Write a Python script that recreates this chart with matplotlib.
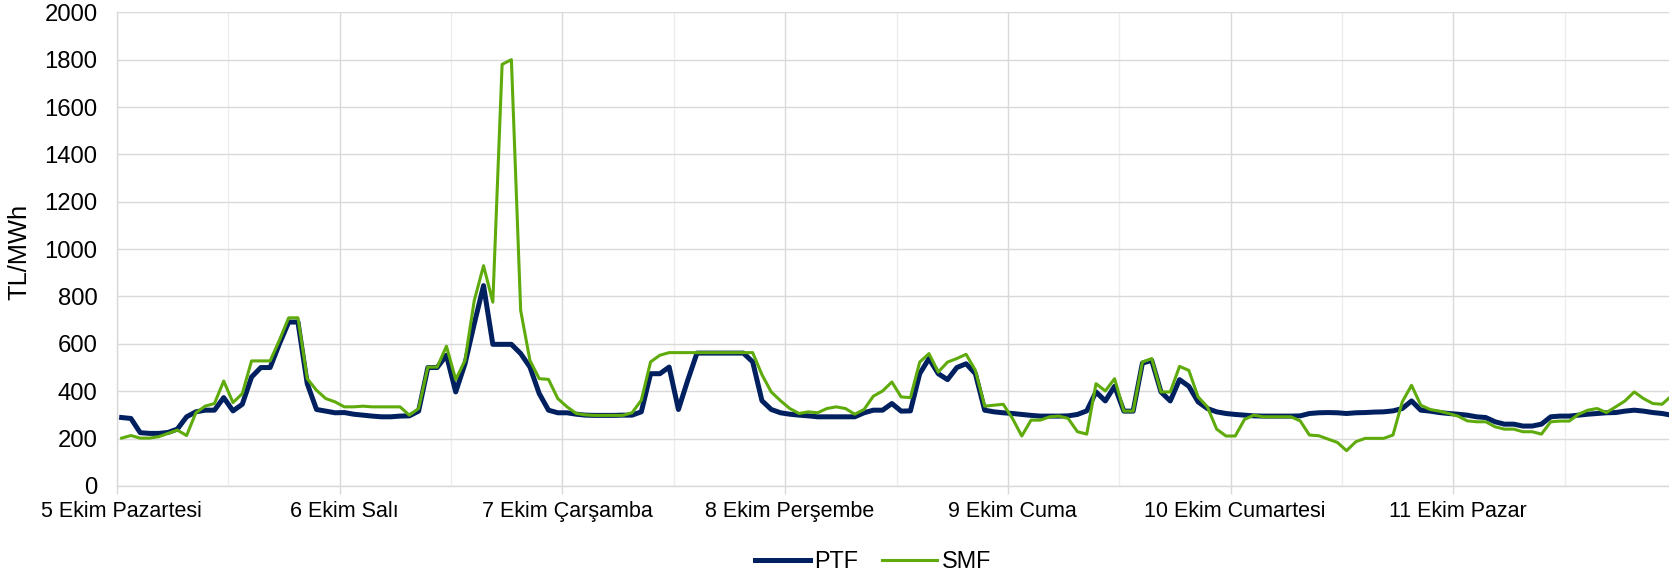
import numpy as np
import matplotlib.pyplot as plt

plt.rcParams['font.family'] = ['Liberation Sans', 'DejaVu Sans']

# hourly prices, 5-11 Ekim (TL/MWh)
ptf = [289, 285, 225, 222, 222, 226, 240, 292, 313, 320, 320, 373, 317, 345, 460, 500, 500, 600, 692, 692, 432, 323, 316, 309,
       310, 303, 299, 295, 292, 292, 295, 296, 316, 500, 500, 552, 397, 516, 685, 846, 598, 598, 598, 559, 502, 390, 320, 309,
       309, 303, 299, 298, 298, 298, 299, 299, 313, 474, 474, 502, 323, 446, 561, 561, 561, 561, 561, 561, 524, 360, 323, 309,
       303, 299, 296, 292, 292, 292, 292, 292, 309, 320, 320, 348, 316, 317, 474, 538, 474, 449, 500, 516, 474, 320, 313, 309,
       306, 302, 298, 295, 295, 295, 296, 302, 317, 397, 359, 421, 316, 316, 519, 530, 397, 359, 449, 421, 355, 327, 313, 306,
       302, 299, 296, 295, 295, 295, 295, 296, 306, 309, 310, 309, 306, 309, 310, 312, 313, 317, 327, 359, 320, 316, 310, 306,
       303, 299, 292, 289, 271, 261, 261, 253, 253, 261, 292, 295, 295, 299, 303, 306, 309, 310, 316, 320, 316, 310, 306, 299]

smf = [202, 213, 202, 202, 208, 222, 236, 213, 309, 337, 348, 443, 352, 390, 528, 528, 528, 615, 710, 710, 453, 404, 369, 355,
       334, 334, 337, 334, 334, 334, 334, 299, 327, 502, 502, 590, 449, 530, 783, 930, 776, 1780, 1800, 741, 530, 453, 450, 369,
       334, 306, 300, 298, 298, 298, 298, 309, 362, 524, 552, 563, 563, 563, 563, 563, 563, 563, 563, 563, 563, 470, 397, 360,
       327, 306, 313, 309, 327, 334, 327, 303, 323, 379, 401, 439, 376, 373, 523, 559, 481, 523, 538, 556, 488, 337, 341, 345,
       285, 211, 278, 278, 292, 295, 285, 229, 219, 432, 401, 453, 316, 316, 523, 538, 397, 397, 505, 488, 376, 334, 240, 211,
       211, 281, 299, 292, 292, 292, 292, 275, 215, 212, 198, 184, 149, 187, 201, 201, 201, 215, 355, 425, 341, 323, 316, 306,
       295, 275, 271, 271, 250, 240, 240, 229, 229, 219, 271, 274, 274, 303, 320, 327, 310, 334, 359, 397, 369, 348, 345, 380]

days = ['5 Ekim Pazartesi', '6 Ekim Salı', '7 Ekim Çarşamba', '8 Ekim Perşembe',
        '9 Ekim Cuma', '10 Ekim Cumartesi', '11 Ekim Pazar']

navy = '#002060'
green = '#5EAB0B'

fig = plt.figure(figsize=(16.69, 5.76), dpi=100)
ax = fig.add_axes([0.0701, 0.1563, 0.9341, 0.8224])

hours = np.arange(len(ptf)) + 0.5

# gridlines
for k in range(0, 169, 12):
    c = '#D9D9D9' if k % 24 == 0 else '#EDEDED'
    ax.axvline(k, color=c, lw=1.0, zorder=0)
ax.set_yticks(np.arange(0, 2001, 200))
ax.yaxis.grid(True, color='#D9D9D9', lw=1.0, zorder=0)
ax.set_axisbelow(True)

ax.plot(hours, ptf, color=navy, lw=3.6, label='PTF', zorder=3, solid_joinstyle='round')
ax.plot(hours, smf, color=green, lw=2.2, label='SMF', zorder=4)

ax.set_xlim(0, 168)
ax.set_ylim(0, 2000)

ax.set_xticks(np.arange(0, 168, 24))
ax.set_xticklabels([])
ax.tick_params(axis='x', which='major', length=6, color='#D9D9D9', width=1.0)
ax.set_xticks(np.arange(0, 168, 24) + 0.5, minor=True)
ax.set_xticklabels(days, minor=True)
ax.tick_params(axis='x', which='minor', length=0, pad=11, labelsize=15.5)
ax.tick_params(axis='y', length=0, pad=14, labelsize=17.2)

for s in ['top', 'right']:
    ax.spines[s].set_visible(False)
for s in ['left', 'bottom']:
    ax.spines[s].set_color('#D9D9D9')
    ax.spines[s].set_linewidth(1.0)

fig.text(0.0115, 0.5625, 'TL/MWh', rotation=90, ha='center', va='center', fontsize=18.3)

fig.legend(loc='center', bbox_to_anchor=(0.523, 0.025), ncol=2, frameon=False,
           fontsize=16.8, handlelength=2.36, handletextpad=0.2, columnspacing=1.0)

plt.savefig('out.png', dpi=100)
